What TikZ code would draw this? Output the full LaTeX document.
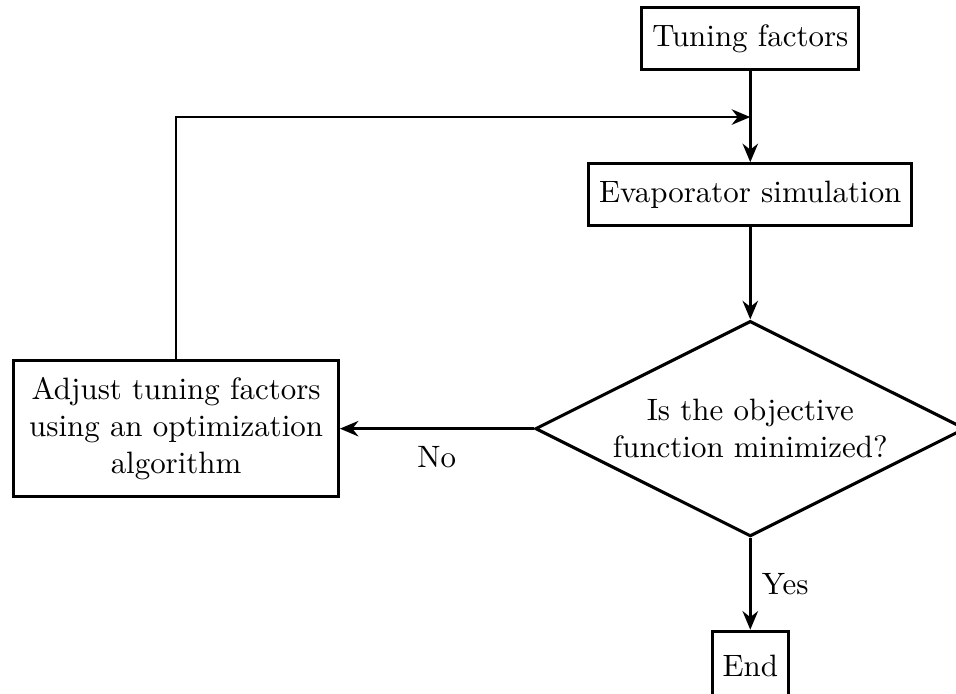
\documentclass[tikz,border=0pt]{standalone}
\usepackage{tikz}
\usetikzlibrary{arrows.meta,shapes.geometric,positioning}
\tikzset{
  block/.style={draw,line width=1pt,rectangle,minimum height=0.7cm,align=center},
  bigblock/.style={block,minimum height=1.55cm,minimum width=3.69cm},
  decision/.style={draw,line width=1pt,diamond,aspect=2,inner sep=1pt,minimum width=4.89cm,minimum height=2.45cm,align=center},
  flow/.style={-{Stealth[length=6pt,width=5pt]},line width=0.9pt}
}

\begin{document}
\begin{tikzpicture}
  \useasboundingbox (0,0) rectangle (10.87,-7.88);
  \node[block] (tune) at (8.531,-0.438) {Tuning factors};
  \node[block] (evap) at (8.531,-2.212) {Evaporator simulation};
  \node[decision] (check) at (8.531,-4.874) {Is the objective\\function minimized?};
  \node[bigblock] (adjust) at (2.002,-4.874) {Adjust tuning factors\\using an optimization\\algorithm};
  \node[block,minimum height=0.8cm,anchor=north] (stop) at (8.531,-7.16) {End};
  \coordinate (merge) at (8.531,-1.331);
  \draw[flow] (tune) -- (evap);
  \draw[flow] (evap) -- (check);
  \draw[flow] (check) -- node[below,yshift=-2pt] {No} (adjust);
  \draw[flow] (check) -- node[right] {Yes} (stop);
  \draw[flow] (adjust.north) |- (merge);
\end{tikzpicture}
\end{document}
